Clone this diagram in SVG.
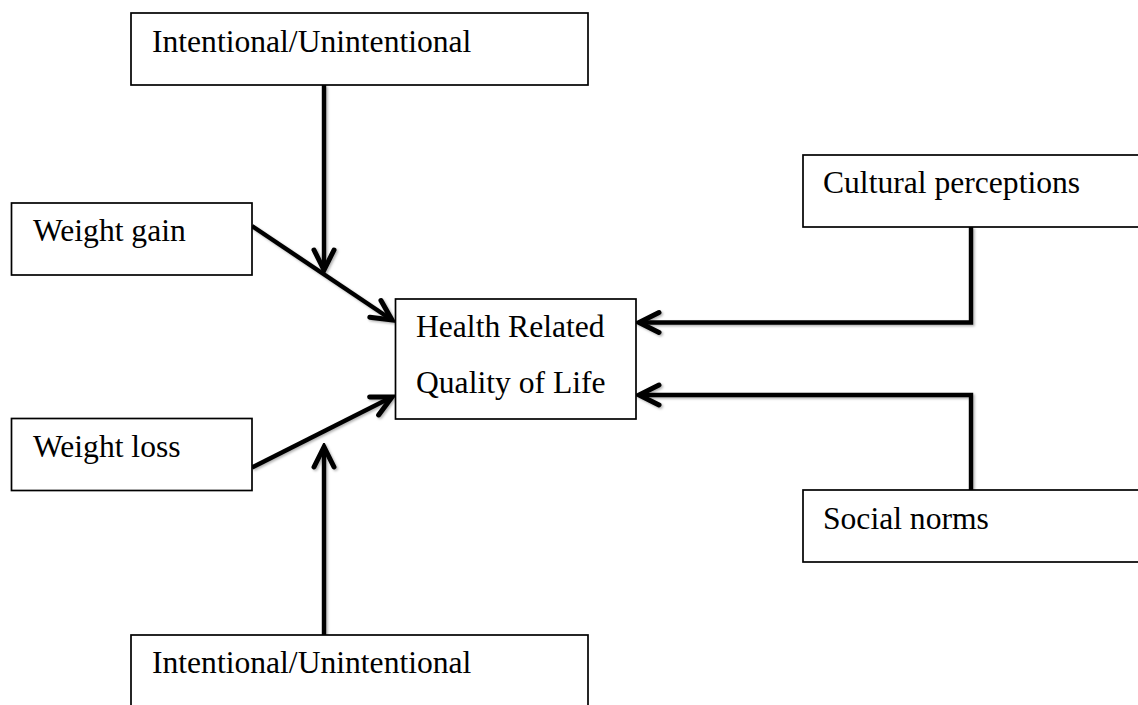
<svg xmlns="http://www.w3.org/2000/svg" width="1138" height="705" viewBox="0 0 1138 705">
  <style>
    .box { fill: #ffffff; stroke: #000000; stroke-width: 1.7; }
    .lbl { font-family: "Liberation Serif", "Times New Roman", serif; font-size: 31.6px; fill: #000000; }
    .conn { fill: none; stroke: #000000; stroke-width: 4.4; stroke-linecap: butt; stroke-linejoin: miter; }
  </style>
  <defs>
    <marker id="arrow" markerUnits="userSpaceOnUse" viewBox="-26 -15 30 30" refX="0" refY="0" markerWidth="30" markerHeight="30" orient="auto">
      <path d="M -20 -10 L 0 0 L -20 10" fill="none" stroke="#000000" stroke-width="5" stroke-linecap="round" stroke-linejoin="miter"/>
    </marker>
    <filter id="shadow" x="-10%" y="-10%" width="130%" height="130%">
      <feDropShadow dx="1.5" dy="1.5" stdDeviation="1.2" flood-color="#000000" flood-opacity="0.3"/>
    </filter>
  </defs>
  <rect width="1138" height="705" fill="#ffffff"/>

  <g id="connectors" filter="url(#shadow)">
    <line class="conn" x1="324" y1="85" x2="324" y2="270" marker-end="url(#arrow)"/>
    <line class="conn" x1="252" y1="226" x2="392" y2="320" marker-end="url(#arrow)"/>
    <line class="conn" x1="252" y1="467.5" x2="392" y2="397" marker-end="url(#arrow)"/>
    <line class="conn" x1="324" y1="635" x2="324" y2="447" marker-end="url(#arrow)"/>
    <path class="conn" d="M 971 227 V 322.5 H 639" marker-end="url(#arrow)"/>
    <path class="conn" d="M 971 490 V 395 H 639" marker-end="url(#arrow)"/>
  </g>

  <g id="node-top-intentional">
    <rect class="box" x="131" y="13" width="457" height="72"/>
    <text class="lbl" x="152" y="52">Intentional/Unintentional</text>
  </g>
  <g id="node-weight-gain">
    <rect class="box" x="11.5" y="203" width="240.5" height="72"/>
    <text class="lbl" x="33" y="241">Weight gain</text>
  </g>
  <g id="node-weight-loss">
    <rect class="box" x="11.5" y="418.5" width="240.5" height="72"/>
    <text class="lbl" x="33" y="457">Weight loss</text>
  </g>
  <g id="node-hrqol">
    <rect class="box" x="395.5" y="299" width="240.5" height="120"/>
    <text class="lbl" x="416" y="337">Health Related</text>
    <text class="lbl" x="416" y="393">Quality of Life</text>
  </g>
  <g id="node-cultural">
    <rect class="box" x="803" y="155" width="345" height="72"/>
    <text class="lbl" x="823" y="193">Cultural perceptions</text>
  </g>
  <g id="node-social">
    <rect class="box" x="803" y="490" width="345" height="72"/>
    <text class="lbl" x="823" y="529">Social norms</text>
  </g>
  <g id="node-bottom-intentional">
    <rect class="box" x="131" y="635" width="457" height="90"/>
    <text class="lbl" x="152" y="673">Intentional/Unintentional</text>
  </g>
</svg>
